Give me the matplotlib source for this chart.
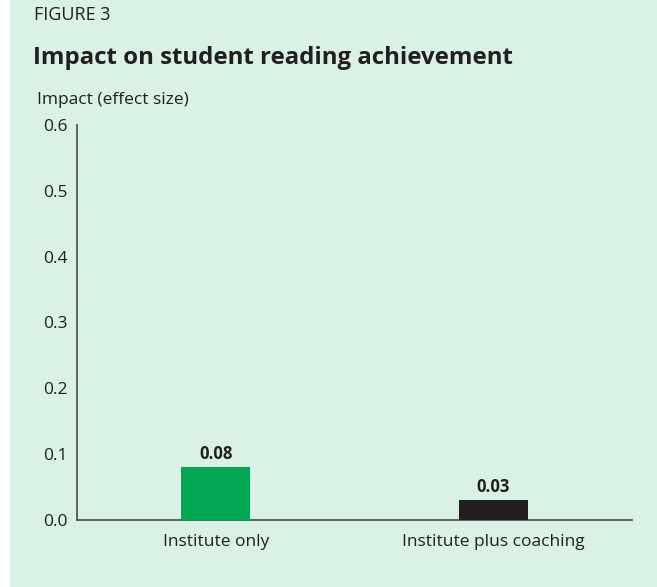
import matplotlib
matplotlib.use("Agg")
import matplotlib.pyplot as plt
from matplotlib.patches import Rectangle

# data
categories = ["Institute only", "Institute plus coaching"]
effect = [0.08, 0.03]
labels = ["0.08", "0.03"]
bar_colors = ["#00a651", "#231f20"]
yticks = [0.0, 0.1, 0.2, 0.3, 0.4, 0.5, 0.6]

BG = "#daf1e5"; INK = "#231f20"; AXC = "#555555"
plt.rcParams.update({"font.family": ["Open Sans", "DejaVu Sans"]})

fig = plt.figure(figsize=(6.57, 5.87), dpi=100, facecolor="white")
fig.patches.append(Rectangle((10 / 657, 0), 1, 1, transform=fig.transFigure,
                             facecolor=BG, edgecolor="none", zorder=-10))

ax = fig.add_axes([77 / 657, 67 / 587, 555 / 657, 395 / 587])
ax.set_facecolor("none")
x = range(len(categories))
ax.bar(x, effect, width=0.25, color=bar_colors, zorder=3)
for xi, v, lab in zip(x, effect, labels):
    ax.annotate(lab, (xi, v), textcoords="offset points", xytext=(0, 3), ha="center", va="bottom",
                fontsize=12, fontweight="bold", color=INK)

ax.set_xlim(-0.5, 1.5); ax.set_ylim(0, 0.6)
ax.set_xticks(list(x)); ax.set_xticklabels(categories, fontsize=12.5, color=INK)
ax.set_yticks(yticks); ax.set_yticklabels([f"{t:.1f}" for t in yticks], fontsize=12.5, color=INK)
ax.tick_params(axis="both", length=0)
ax.tick_params(axis="y", pad=6.5)
ax.tick_params(axis="x", pad=10)
for s in ["top", "right"]:
    ax.spines[s].set_visible(False)
for s in ["left", "bottom"]:
    ax.spines[s].set_color(AXC); ax.spines[s].set_linewidth(1.3)

fig.text(34 / 657, 1 - 15 / 587, "FIGURE 3", fontsize=13, color=INK, va="center", ha="left")
fig.text(33 / 657, 1 - 58 / 587, "Impact on student reading achievement", fontsize=17.3,
         fontweight="bold", color=INK, va="center", ha="left")
fig.text(37 / 657, 1 - 100 / 587, "Impact (effect size)", fontsize=12.5, color=INK, va="center", ha="left")

fig.savefig("out.png", dpi=100, facecolor="white")
